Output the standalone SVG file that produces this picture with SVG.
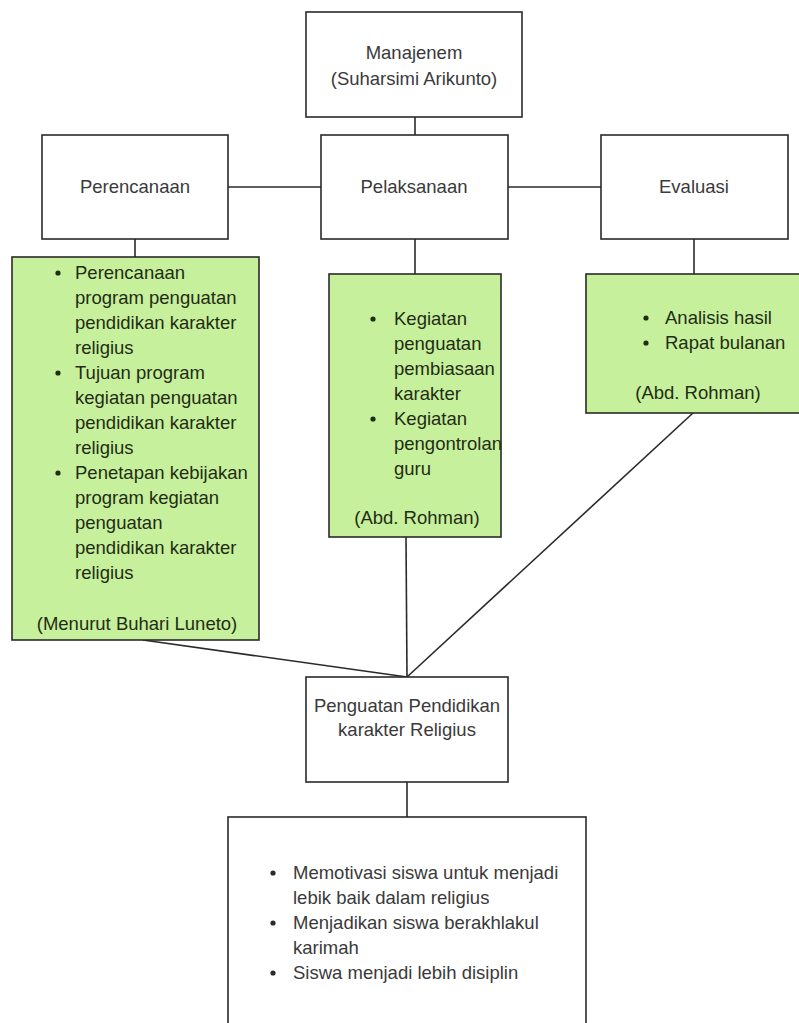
<svg xmlns="http://www.w3.org/2000/svg" width="799" height="1023" viewBox="0 0 799 1023">
<style>
  .box{fill:#ffffff;stroke:#2a2a2a;stroke-width:1.6}
  .gbox{fill:#c7f09c;stroke:#2a2a2a;stroke-width:1.6}
  .t{font-family:"Liberation Sans",Arial,sans-serif;font-size:18.5px;fill:#3a3a3a}
  .g{font-family:"Liberation Sans",Arial,sans-serif;font-size:18.5px;fill:#1f2d14}
  .c{text-anchor:middle}
  .bd{fill:#1f2d14}
  .bk{fill:#2a2a2a}
  .conn line{stroke:#2a2a2a;stroke-width:1.6;fill:none}
</style>
<rect width="799" height="1023" fill="#ffffff"/>
<g id="connectors" class="conn">
  <line x1="415" y1="117" x2="415" y2="135"/>
  <line x1="228" y1="187" x2="321" y2="187"/>
  <line x1="508" y1="187" x2="601" y2="187"/>
  <line x1="135" y1="239" x2="135" y2="257"/>
  <line x1="415" y1="239" x2="415" y2="274"/>
  <line x1="694" y1="239" x2="694" y2="274"/>
  <line x1="143" y1="640" x2="407" y2="677"/>
  <line x1="406" y1="537" x2="407" y2="677"/>
  <line x1="693" y1="413" x2="407" y2="677"/>
  <line x1="407" y1="782" x2="407" y2="817"/>
</g>
<g id="manajemen">
  <rect class="box" x="306" y="12" width="216" height="105"/>
  <text class="t c" x="414" y="59">Manajenem</text>
  <text class="t c" x="414" y="85">(Suharsimi Arikunto)</text>
</g>
<g id="perencanaan">
  <rect class="box" x="42" y="135" width="186" height="104"/>
  <text class="t c" x="135" y="193">Perencanaan</text>
</g>
<g id="pelaksanaan">
  <rect class="box" x="321" y="135" width="187" height="104"/>
  <text class="t c" x="414" y="193">Pelaksanaan</text>
</g>
<g id="evaluasi">
  <rect class="box" x="601" y="135" width="187" height="104"/>
  <text class="t c" x="694" y="193">Evaluasi</text>
</g>
<g id="perencanaan-detail">
  <rect class="gbox" x="12" y="257" width="247" height="383"/>
  <circle class="bd" cx="58" cy="273" r="2.6"/>
  <circle class="bd" cx="58" cy="373" r="2.6"/>
  <circle class="bd" cx="58" cy="473" r="2.6"/>
  <text class="g" x="75" y="279">Perencanaan</text>
  <text class="g" x="75" y="304">program penguatan</text>
  <text class="g" x="75" y="329">pendidikan karakter</text>
  <text class="g" x="75" y="354">religius</text>
  <text class="g" x="75" y="379">Tujuan program</text>
  <text class="g" x="75" y="404">kegiatan penguatan</text>
  <text class="g" x="75" y="429">pendidikan karakter</text>
  <text class="g" x="75" y="454">religius</text>
  <text class="g" x="75" y="479">Penetapan kebijakan</text>
  <text class="g" x="75" y="504">program kegiatan</text>
  <text class="g" x="75" y="529">penguatan</text>
  <text class="g" x="75" y="554">pendidikan karakter</text>
  <text class="g" x="75" y="579">religius</text>
  <text class="g c" x="137" y="630">(Menurut Buhari Luneto)</text>
</g>
<g id="pelaksanaan-detail">
  <rect class="gbox" x="329" y="274" width="172" height="263"/>
  <circle class="bd" cx="373" cy="319" r="2.6"/>
  <circle class="bd" cx="373" cy="419" r="2.6"/>
  <text class="g" x="394" y="325">Kegiatan</text>
  <text class="g" x="394" y="350">penguatan</text>
  <text class="g" x="394" y="375">pembiasaan</text>
  <text class="g" x="394" y="400">karakter</text>
  <text class="g" x="394" y="425">Kegiatan</text>
  <text class="g" x="394" y="450">pengontrolan</text>
  <text class="g" x="394" y="475">guru</text>
  <text class="g c" x="417" y="524">(Abd. Rohman)</text>
</g>
<g id="evaluasi-detail">
  <rect class="gbox" x="586" y="274" width="220" height="139"/>
  <circle class="bd" cx="646" cy="318" r="2.6"/>
  <circle class="bd" cx="646" cy="343" r="2.6"/>
  <text class="g" x="665" y="324">Analisis hasil</text>
  <text class="g" x="665" y="349">Rapat bulanan</text>
  <text class="g c" x="698" y="399">(Abd. Rohman)</text>
</g>
<g id="penguatan">
  <rect class="box" x="306" y="677" width="202" height="105"/>
  <text class="t c" x="407" y="712">Penguatan Pendidikan</text>
  <text class="t c" x="407" y="736">karakter Religius</text>
</g>
<g id="hasil">
  <rect class="box" x="228" y="817" width="358" height="230"/>
  <circle class="bk" cx="273" cy="873" r="2.6"/>
  <circle class="bk" cx="273" cy="923" r="2.6"/>
  <circle class="bk" cx="273" cy="973" r="2.6"/>
  <text class="t" x="293" y="879">Memotivasi siswa untuk menjadi</text>
  <text class="t" x="293" y="904">lebik baik dalam religius</text>
  <text class="t" x="293" y="929">Menjadikan siswa berakhlakul</text>
  <text class="t" x="293" y="954">karimah</text>
  <text class="t" x="293" y="979">Siswa menjadi lebih disiplin</text>
</g>
</svg>
